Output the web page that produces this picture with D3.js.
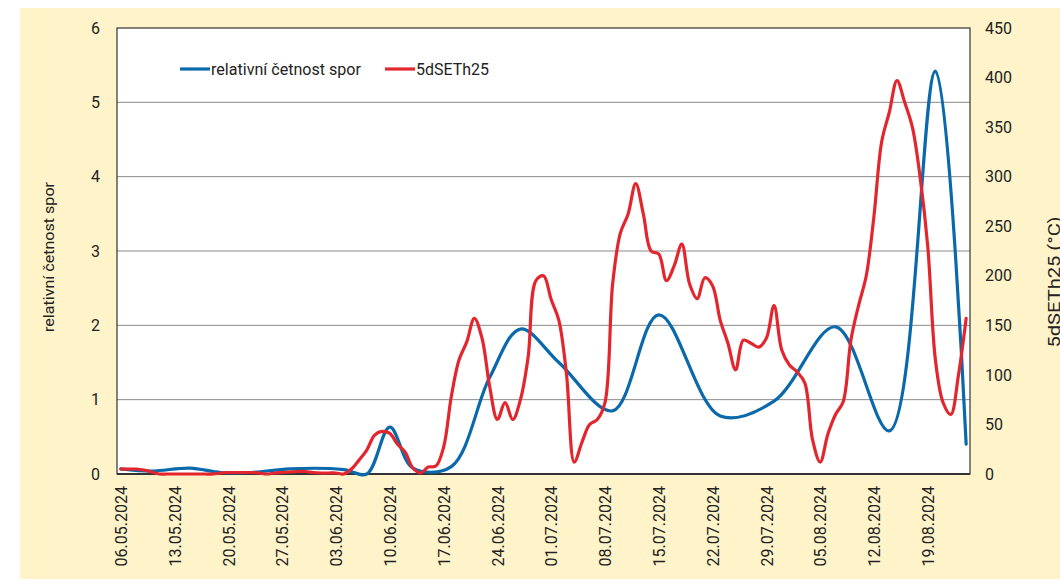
<!DOCTYPE html>
<html><head><meta charset="utf-8">
<script src="https://cdn.jsdelivr.net/npm/d3@7"></script>
<style>body{margin:0;background:#fff;} svg{display:block;}</style>
</head><body>
<svg id="chart" width="1060" height="585"></svg>
<script>
// ---------- data ----------
const firstDay = "06.05.2024";
const dayCount = 111; // 06.05.2024 .. 24.08.2024, daily
const tickLabels = ["06.05.2024","13.05.2024","20.05.2024","27.05.2024","03.06.2024","10.06.2024",
  "17.06.2024","24.06.2024","01.07.2024","08.07.2024","15.07.2024","22.07.2024","29.07.2024",
  "05.08.2024","12.08.2024","19.08.2024"];
const leftTicks = [0,1,2,3,4,5,6];
const rightTicks = [0,50,100,150,200,250,300,350,400,450];

// relativní četnost spor – sampling days (days since 06.05.2024) and values
const sporDays   = [0, 4, 9, 13, 17, 22, 29, 32, 35, 38, 43, 48, 52, 57, 64, 70, 78, 85, 93, 100, 106, 110];
const sporValues = [0.07,0.04,0.08,0.02,0.02,0.07,0.06,0.0,0.63,0.08,0.1,1.3,1.95,1.5,0.85,2.14,0.78,0.98,1.98,0.58,5.42,0.4];

// 5dSETh25 (°C) – daily values
const sethValues = [
  5,5,5,4,2,0,0,0,0,0,0,0,0,1,1.5,1.5,1.5,1.5,1,0,
  1,1.5,2,2.5,2.5,1.5,1,1,1,0,5,14,24,39,43,41,30,22,6,1,
  7,8,27,78,115,133,157,137,88,55,72,55,75,118,195,200,176,155,100,12,
  32,50,55,72,192,243,262,293,262,225,222,195,210,232,192,177,198,190,155,132,
  105,135,132,128,137,170,125,110,103,92,35,12,40,60,73,135,170,200,260,335,
  365,397,375,350,300,230,115,72,60,100,157];

const leftTitle = "relativní četnost spor";
const rightTitle = "5dSETh25 (°C)";
const seriesNames = ["relativní četnost spor","5dSETh25"];

// ---------- drawing ----------
const svg = d3.select("#chart");
const W = 1060, H = 585;
const plot = {l:117, r:970, t:28, b:474};
const parse = d3.timeParse("%d.%m.%Y");
const fmt = d3.timeFormat("%d.%m.%Y");
const d0 = parse(firstDay);
const dates = d3.range(dayCount).map(i => d3.timeDay.offset(d0, i));

const x = d3.scaleTime()
  .domain([d3.timeHour.offset(dates[0], -12), d3.timeHour.offset(dates[dayCount-1], 12)])
  .range([plot.l, plot.r]);
const yL = d3.scaleLinear().domain([0,6]).range([plot.b, plot.t]);
const yR = d3.scaleLinear().domain([0,450]).range([plot.b, plot.t]);

const blue = "#0a69ab", red = "#e3262e";
const font = "Roboto, 'Liberation Sans', sans-serif";

svg.append("rect").attr("x",20).attr("y",8).attr("width",W-20).attr("height",571).attr("fill","#fef3c9");
svg.append("rect").attr("x",plot.l).attr("y",plot.t).attr("width",plot.r-plot.l).attr("height",plot.b-plot.t).attr("fill","#fff");

// gridlines
svg.append("g").selectAll("line").data(leftTicks.filter(v=>v>0 && v<6)).join("line")
  .attr("x1",plot.l).attr("x2",plot.r).attr("y1",d=>yL(d)).attr("y2",d=>yL(d))
  .attr("stroke","#8a8a8a").attr("stroke-width",1);

// border
svg.append("rect").attr("x",plot.l).attr("y",plot.t).attr("width",plot.r-plot.l).attr("height",plot.b-plot.t)
  .attr("fill","none").attr("stroke","#333").attr("stroke-width",1.2);
svg.append("line").attr("x1",plot.l).attr("x2",plot.r).attr("y1",plot.b).attr("y2",plot.b).attr("stroke","#333").attr("stroke-width",2);

// axes
const gL = svg.append("g").attr("transform",`translate(${plot.l-14},0)`)
  .call(d3.axisLeft(yL).tickValues(leftTicks).tickFormat(d3.format("d")).tickSize(0));
const gR = svg.append("g").attr("transform",`translate(${plot.r+15},0)`)
  .call(d3.axisRight(yR).tickValues(rightTicks).tickFormat(d3.format("d")).tickSize(0));
const tickDates = tickLabels.map(parse);
const gB = svg.append("g").attr("transform",`translate(0,${plot.b})`)
  .call(d3.axisBottom(x).tickValues(tickDates).tickFormat(fmt).tickSize(0));
[gL,gR,gB].forEach(g => {
  g.select(".domain").remove();
  g.selectAll("text").attr("font-family",font).attr("font-size",16).attr("fill","#222");
});
gR.selectAll("text").attr("x",0);
gB.selectAll("text").attr("transform","rotate(-90)").attr("x",-12).attr("y",0)
  .attr("dy","0.36em").attr("text-anchor","end");

// titles
svg.append("text").attr("transform","translate(54,257) rotate(-90)").attr("text-anchor","middle")
  .attr("font-family",font).attr("font-size",15).attr("fill","#222")
  .attr("textLength",150).attr("lengthAdjust","spacingAndGlyphs").text(leftTitle);
svg.append("text").attr("transform","translate(1060,282) rotate(-90)").attr("text-anchor","middle")
  .attr("font-family",font).attr("font-size",16).attr("fill","#222")
  .attr("textLength",131).attr("lengthAdjust","spacingAndGlyphs").text(rightTitle);

// lines
const sethData = sethValues.map((v,i)=>({d:dates[i], v}));
const sporData = sporDays.map((dd,i)=>({d:dates[dd], v:sporValues[i]}));

svg.append("path").datum(sporData)
  .attr("d", d3.line().x(d=>x(d.d)).y(d=>yL(d.v)).curve(d3.curveCatmullRom.alpha(0.5)))
  .attr("fill","none").attr("stroke",blue).attr("stroke-width",3.2).attr("stroke-linejoin","round").attr("stroke-linecap","round");
svg.append("path").datum(sethData)
  .attr("d", d3.line().x(d=>x(d.d)).y(d=>yR(d.v)).curve(d3.curveCatmullRom.alpha(0.5)))
  .attr("fill","none").attr("stroke",red).attr("stroke-width",3.2).attr("stroke-linejoin","round").attr("stroke-linecap","round");

// legend
const leg = [{n:seriesNames[0], c:blue, x:180, len:150}, {n:seriesNames[1], c:red, x:385, len:73}];
leg.forEach(l => {
  svg.append("line").attr("x1",l.x).attr("x2",l.x+30).attr("y1",69).attr("y2",69)
    .attr("stroke",l.c).attr("stroke-width",3.2);
  svg.append("text").attr("x",l.x+31).attr("y",75).attr("font-family",font).attr("font-size",17)
    .attr("fill","#222").attr("textLength",l.len).attr("lengthAdjust","spacingAndGlyphs").text(l.n);
});
</script>
</body></html>
